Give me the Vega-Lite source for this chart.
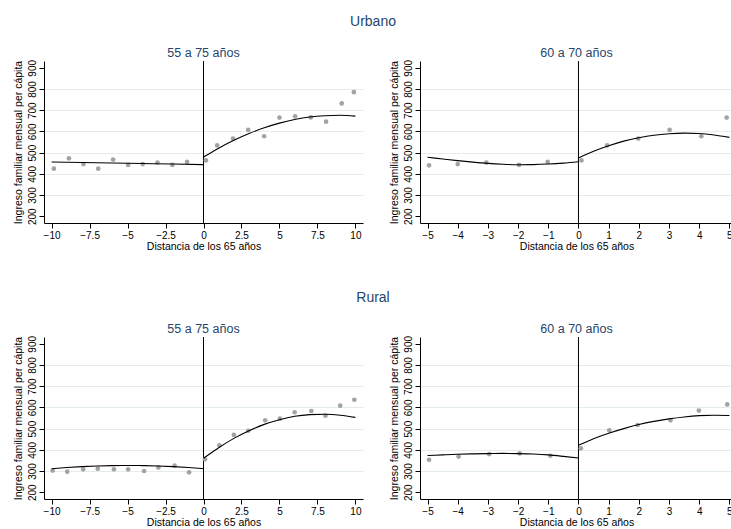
{
  "$schema": "https://vega.github.io/schema/vega-lite/v6.json",
  "padding": {"left": 12, "top": 14, "right": 0, "bottom": 0},
  "background": "white",
  "config": {
    "font": "Liberation Sans",
    "view": {"stroke": null},
    "axis": {"domainColor": "black", "tickColor": "black", "labelColor": "black", "titleColor": "black", "labelFontSize": 10, "titleFontSize": 10.5, "titleFontWeight": "normal", "tickSize": 5, "labelPadding": 2, "domainWidth": 1, "tickWidth": 1, "labelOverlap": false, "labelFlush": false},
    "concat": {"spacing": 25}
  },
  "datasets": {
    "puntos": [
      {"zona": "Urbano", "rango": "55 a 75", "x": -9.85, "y": 424},
      {"zona": "Urbano", "rango": "55 a 75", "x": -8.86, "y": 473},
      {"zona": "Urbano", "rango": "55 a 75", "x": -7.9, "y": 446},
      {"zona": "Urbano", "rango": "55 a 75", "x": -6.93, "y": 424},
      {"zona": "Urbano", "rango": "55 a 75", "x": -5.95, "y": 467},
      {"zona": "Urbano", "rango": "55 a 75", "x": -4.96, "y": 442},
      {"zona": "Urbano", "rango": "55 a 75", "x": -4.0, "y": 446},
      {"zona": "Urbano", "rango": "55 a 75", "x": -3.03, "y": 453},
      {"zona": "Urbano", "rango": "55 a 75", "x": -2.05, "y": 442},
      {"zona": "Urbano", "rango": "55 a 75", "x": -1.08, "y": 456},
      {"zona": "Urbano", "rango": "55 a 75", "x": 0.16, "y": 463},
      {"zona": "Urbano", "rango": "55 a 75", "x": 0.9, "y": 534},
      {"zona": "Urbano", "rango": "55 a 75", "x": 1.94, "y": 566},
      {"zona": "Urbano", "rango": "55 a 75", "x": 2.94, "y": 607},
      {"zona": "Urbano", "rango": "55 a 75", "x": 3.99, "y": 577},
      {"zona": "Urbano", "rango": "55 a 75", "x": 5.0, "y": 665},
      {"zona": "Urbano", "rango": "55 a 75", "x": 6.03, "y": 671},
      {"zona": "Urbano", "rango": "55 a 75", "x": 7.06, "y": 666},
      {"zona": "Urbano", "rango": "55 a 75", "x": 8.07, "y": 646},
      {"zona": "Urbano", "rango": "55 a 75", "x": 9.1, "y": 732},
      {"zona": "Urbano", "rango": "55 a 75", "x": 9.9, "y": 785},
      {"zona": "Urbano", "rango": "60 a 70", "x": -4.95, "y": 440},
      {"zona": "Urbano", "rango": "60 a 70", "x": -4.0, "y": 446},
      {"zona": "Urbano", "rango": "60 a 70", "x": -3.05, "y": 453},
      {"zona": "Urbano", "rango": "60 a 70", "x": -1.97, "y": 442},
      {"zona": "Urbano", "rango": "60 a 70", "x": -1.02, "y": 456},
      {"zona": "Urbano", "rango": "60 a 70", "x": 0.1, "y": 463},
      {"zona": "Urbano", "rango": "60 a 70", "x": 0.95, "y": 534},
      {"zona": "Urbano", "rango": "60 a 70", "x": 1.98, "y": 566},
      {"zona": "Urbano", "rango": "60 a 70", "x": 3.02, "y": 607},
      {"zona": "Urbano", "rango": "60 a 70", "x": 4.07, "y": 577},
      {"zona": "Urbano", "rango": "60 a 70", "x": 4.91, "y": 665},
      {"zona": "Rural", "rango": "55 a 75", "x": -9.93, "y": 302},
      {"zona": "Rural", "rango": "55 a 75", "x": -8.97, "y": 297},
      {"zona": "Rural", "rango": "55 a 75", "x": -7.92, "y": 308},
      {"zona": "Rural", "rango": "55 a 75", "x": -6.96, "y": 311},
      {"zona": "Rural", "rango": "55 a 75", "x": -5.9, "y": 308},
      {"zona": "Rural", "rango": "55 a 75", "x": -4.96, "y": 308},
      {"zona": "Rural", "rango": "55 a 75", "x": -3.91, "y": 300},
      {"zona": "Rural", "rango": "55 a 75", "x": -2.97, "y": 317},
      {"zona": "Rural", "rango": "55 a 75", "x": -1.9, "y": 325},
      {"zona": "Rural", "rango": "55 a 75", "x": -0.95, "y": 294},
      {"zona": "Rural", "rango": "55 a 75", "x": 0.1, "y": 355},
      {"zona": "Rural", "rango": "55 a 75", "x": 1.04, "y": 421},
      {"zona": "Rural", "rango": "55 a 75", "x": 2.0, "y": 470},
      {"zona": "Rural", "rango": "55 a 75", "x": 2.94, "y": 490},
      {"zona": "Rural", "rango": "55 a 75", "x": 4.06, "y": 539},
      {"zona": "Rural", "rango": "55 a 75", "x": 5.03, "y": 547},
      {"zona": "Rural", "rango": "55 a 75", "x": 6.0, "y": 577},
      {"zona": "Rural", "rango": "55 a 75", "x": 7.1, "y": 583},
      {"zona": "Rural", "rango": "55 a 75", "x": 8.03, "y": 561},
      {"zona": "Rural", "rango": "55 a 75", "x": 9.0, "y": 608},
      {"zona": "Rural", "rango": "55 a 75", "x": 9.93, "y": 636},
      {"zona": "Rural", "rango": "60 a 70", "x": -4.95, "y": 353},
      {"zona": "Rural", "rango": "60 a 70", "x": -3.97, "y": 368},
      {"zona": "Rural", "rango": "60 a 70", "x": -2.96, "y": 380},
      {"zona": "Rural", "rango": "60 a 70", "x": -1.95, "y": 383},
      {"zona": "Rural", "rango": "60 a 70", "x": -0.93, "y": 372},
      {"zona": "Rural", "rango": "60 a 70", "x": 0.08, "y": 407},
      {"zona": "Rural", "rango": "60 a 70", "x": 1.02, "y": 492},
      {"zona": "Rural", "rango": "60 a 70", "x": 1.96, "y": 517},
      {"zona": "Rural", "rango": "60 a 70", "x": 3.05, "y": 539},
      {"zona": "Rural", "rango": "60 a 70", "x": 3.99, "y": 585},
      {"zona": "Rural", "rango": "60 a 70", "x": 4.93, "y": 614}
    ],
    "ajuste": [
      {"zona": "Urbano", "rango": "55 a 75", "lado": "izq", "x": -10, "y": 456},
      {"zona": "Urbano", "rango": "55 a 75", "lado": "izq", "x": -8, "y": 453.5},
      {"zona": "Urbano", "rango": "55 a 75", "lado": "izq", "x": -6, "y": 451},
      {"zona": "Urbano", "rango": "55 a 75", "lado": "izq", "x": -4, "y": 448.5},
      {"zona": "Urbano", "rango": "55 a 75", "lado": "izq", "x": -2, "y": 446},
      {"zona": "Urbano", "rango": "55 a 75", "lado": "izq", "x": 0, "y": 443},
      {"zona": "Urbano", "rango": "55 a 75", "lado": "der", "x": 0, "y": 479},
      {"zona": "Urbano", "rango": "55 a 75", "lado": "der", "x": 1, "y": 521},
      {"zona": "Urbano", "rango": "55 a 75", "lado": "der", "x": 2, "y": 558},
      {"zona": "Urbano", "rango": "55 a 75", "lado": "der", "x": 3, "y": 590},
      {"zona": "Urbano", "rango": "55 a 75", "lado": "der", "x": 4, "y": 617},
      {"zona": "Urbano", "rango": "55 a 75", "lado": "der", "x": 5, "y": 639},
      {"zona": "Urbano", "rango": "55 a 75", "lado": "der", "x": 6, "y": 656},
      {"zona": "Urbano", "rango": "55 a 75", "lado": "der", "x": 7, "y": 668},
      {"zona": "Urbano", "rango": "55 a 75", "lado": "der", "x": 8, "y": 674},
      {"zona": "Urbano", "rango": "55 a 75", "lado": "der", "x": 9, "y": 676},
      {"zona": "Urbano", "rango": "55 a 75", "lado": "der", "x": 10, "y": 672},
      {"zona": "Urbano", "rango": "60 a 70", "lado": "izq", "x": -5, "y": 478},
      {"zona": "Urbano", "rango": "60 a 70", "lado": "izq", "x": -4.5, "y": 470},
      {"zona": "Urbano", "rango": "60 a 70", "lado": "izq", "x": -4, "y": 462},
      {"zona": "Urbano", "rango": "60 a 70", "lado": "izq", "x": -3.5, "y": 455},
      {"zona": "Urbano", "rango": "60 a 70", "lado": "izq", "x": -3, "y": 449},
      {"zona": "Urbano", "rango": "60 a 70", "lado": "izq", "x": -2.5, "y": 445},
      {"zona": "Urbano", "rango": "60 a 70", "lado": "izq", "x": -2, "y": 443},
      {"zona": "Urbano", "rango": "60 a 70", "lado": "izq", "x": -1.5, "y": 443.5},
      {"zona": "Urbano", "rango": "60 a 70", "lado": "izq", "x": -1, "y": 446},
      {"zona": "Urbano", "rango": "60 a 70", "lado": "izq", "x": -0.5, "y": 450.5},
      {"zona": "Urbano", "rango": "60 a 70", "lado": "izq", "x": 0, "y": 457},
      {"zona": "Urbano", "rango": "60 a 70", "lado": "der", "x": 0, "y": 474},
      {"zona": "Urbano", "rango": "60 a 70", "lado": "der", "x": 0.5, "y": 506},
      {"zona": "Urbano", "rango": "60 a 70", "lado": "der", "x": 1, "y": 532},
      {"zona": "Urbano", "rango": "60 a 70", "lado": "der", "x": 1.5, "y": 554},
      {"zona": "Urbano", "rango": "60 a 70", "lado": "der", "x": 2, "y": 570},
      {"zona": "Urbano", "rango": "60 a 70", "lado": "der", "x": 2.5, "y": 582},
      {"zona": "Urbano", "rango": "60 a 70", "lado": "der", "x": 3, "y": 589},
      {"zona": "Urbano", "rango": "60 a 70", "lado": "der", "x": 3.5, "y": 592},
      {"zona": "Urbano", "rango": "60 a 70", "lado": "der", "x": 4, "y": 590},
      {"zona": "Urbano", "rango": "60 a 70", "lado": "der", "x": 4.5, "y": 583},
      {"zona": "Urbano", "rango": "60 a 70", "lado": "der", "x": 5, "y": 572},
      {"zona": "Rural", "rango": "55 a 75", "lado": "izq", "x": -10, "y": 311},
      {"zona": "Rural", "rango": "55 a 75", "lado": "izq", "x": -9, "y": 316.4},
      {"zona": "Rural", "rango": "55 a 75", "lado": "izq", "x": -8, "y": 320.6},
      {"zona": "Rural", "rango": "55 a 75", "lado": "izq", "x": -7, "y": 323.6},
      {"zona": "Rural", "rango": "55 a 75", "lado": "izq", "x": -6, "y": 325.4},
      {"zona": "Rural", "rango": "55 a 75", "lado": "izq", "x": -5, "y": 326},
      {"zona": "Rural", "rango": "55 a 75", "lado": "izq", "x": -4, "y": 325.4},
      {"zona": "Rural", "rango": "55 a 75", "lado": "izq", "x": -3, "y": 323.6},
      {"zona": "Rural", "rango": "55 a 75", "lado": "izq", "x": -2, "y": 320.6},
      {"zona": "Rural", "rango": "55 a 75", "lado": "izq", "x": -1, "y": 316.4},
      {"zona": "Rural", "rango": "55 a 75", "lado": "izq", "x": 0, "y": 311},
      {"zona": "Rural", "rango": "55 a 75", "lado": "der", "x": 0, "y": 360},
      {"zona": "Rural", "rango": "55 a 75", "lado": "der", "x": 1, "y": 410},
      {"zona": "Rural", "rango": "55 a 75", "lado": "der", "x": 2, "y": 454},
      {"zona": "Rural", "rango": "55 a 75", "lado": "der", "x": 3, "y": 490},
      {"zona": "Rural", "rango": "55 a 75", "lado": "der", "x": 4, "y": 520},
      {"zona": "Rural", "rango": "55 a 75", "lado": "der", "x": 5, "y": 542},
      {"zona": "Rural", "rango": "55 a 75", "lado": "der", "x": 6, "y": 558},
      {"zona": "Rural", "rango": "55 a 75", "lado": "der", "x": 7, "y": 566},
      {"zona": "Rural", "rango": "55 a 75", "lado": "der", "x": 8, "y": 568},
      {"zona": "Rural", "rango": "55 a 75", "lado": "der", "x": 9, "y": 563},
      {"zona": "Rural", "rango": "55 a 75", "lado": "der", "x": 10, "y": 553},
      {"zona": "Rural", "rango": "60 a 70", "lado": "izq", "x": -5, "y": 373},
      {"zona": "Rural", "rango": "60 a 70", "lado": "izq", "x": -4.5, "y": 376},
      {"zona": "Rural", "rango": "60 a 70", "lado": "izq", "x": -4, "y": 379},
      {"zona": "Rural", "rango": "60 a 70", "lado": "izq", "x": -3.5, "y": 381},
      {"zona": "Rural", "rango": "60 a 70", "lado": "izq", "x": -3, "y": 382},
      {"zona": "Rural", "rango": "60 a 70", "lado": "izq", "x": -2.5, "y": 383},
      {"zona": "Rural", "rango": "60 a 70", "lado": "izq", "x": -2, "y": 382},
      {"zona": "Rural", "rango": "60 a 70", "lado": "izq", "x": -1.5, "y": 380},
      {"zona": "Rural", "rango": "60 a 70", "lado": "izq", "x": -1, "y": 376},
      {"zona": "Rural", "rango": "60 a 70", "lado": "izq", "x": -0.5, "y": 369},
      {"zona": "Rural", "rango": "60 a 70", "lado": "izq", "x": 0, "y": 361},
      {"zona": "Rural", "rango": "60 a 70", "lado": "der", "x": 0, "y": 421},
      {"zona": "Rural", "rango": "60 a 70", "lado": "der", "x": 0.5, "y": 452},
      {"zona": "Rural", "rango": "60 a 70", "lado": "der", "x": 1, "y": 478},
      {"zona": "Rural", "rango": "60 a 70", "lado": "der", "x": 1.5, "y": 500},
      {"zona": "Rural", "rango": "60 a 70", "lado": "der", "x": 2, "y": 519},
      {"zona": "Rural", "rango": "60 a 70", "lado": "der", "x": 2.5, "y": 534},
      {"zona": "Rural", "rango": "60 a 70", "lado": "der", "x": 3, "y": 546},
      {"zona": "Rural", "rango": "60 a 70", "lado": "der", "x": 3.5, "y": 555},
      {"zona": "Rural", "rango": "60 a 70", "lado": "der", "x": 4, "y": 561},
      {"zona": "Rural", "rango": "60 a 70", "lado": "der", "x": 4.5, "y": 563},
      {"zona": "Rural", "rango": "60 a 70", "lado": "der", "x": 5, "y": 562}
    ]
  },
  "spacing": 38,
  "vconcat": [
    {
      "title": {"text": "Urbano", "fontSize": 14, "fontWeight": "normal", "color": "#26466d", "anchor": "middle", "offset": 18},
      "spacing": 25,
      "hconcat": [
        {
          "width": 319, "height": 162,
          "title": {"text": "55 a 75 años", "fontSize": 12.5, "fontWeight": "normal", "color": "#26466d", "frame": "group", "offset": 0},
          "layer": [
            {"data": {"values": [{}]}, "mark": {"type": "rule", "color": "black", "strokeWidth": 1}, "encoding": {"x": {"datum": 0, "type": "quantitative", "scale": {"domain": [-10.5, 10.5], "nice": false, "zero": false}}}},
            {"data": {"name": "puntos"}, "transform": [{"filter": "datum.zona == 'Urbano' && datum.rango == '55 a 75'"}],
             "mark": {"type": "circle", "size": 22, "color": "#a3a3a3", "opacity": 1},
             "encoding": {
               "x": {"field": "x", "type": "quantitative", "scale": {"domain": [-10.5, 10.5], "nice": false, "zero": false}, "axis": {"values": [-10, -7.5, -5, -2.5, 0, 2.5, 5, 7.5, 10], "format": ".1~f", "labelOverlap": false, "tickCount": 9, "grid": false, "title": "Distancia de los 65 años", "titlePadding": 1}},
               "y": {"field": "y", "type": "quantitative", "scale": {"domain": [168, 932], "nice": false, "zero": false}, "axis": {"values": [200, 300, 400, 500, 600, 700, 800, 900], "format": "d", "labelOverlap": false, "tickCount": 8, "title": "Ingreso familiar mensual per cápita", "labelAngle": -90, "labelAlign": "center", "labelBaseline": "bottom", "grid": true, "gridColor": "#e3edf0", "gridOpacity": {"condition": {"test": "datum.value == 200 || datum.value == 900", "value": 0}, "value": 1}, "titlePadding": 4}}
             }},
            {"data": {"name": "ajuste"}, "transform": [{"filter": "datum.zona == 'Urbano' && datum.rango == '55 a 75'"}],
             "mark": {"type": "line", "color": "black", "strokeWidth": 1.1, "interpolate": "monotone"},
             "encoding": {
               "x": {"field": "x", "type": "quantitative", "scale": {"domain": [-10.5, 10.5], "nice": false, "zero": false}},
               "y": {"field": "y", "type": "quantitative", "scale": {"domain": [168, 932], "nice": false, "zero": false}},
               "detail": {"field": "lado"}
             }}
          ]
        },
        {
          "width": 313, "height": 162,
          "title": {"text": "60 a 70 años", "fontSize": 12.5, "fontWeight": "normal", "color": "#26466d", "frame": "group", "offset": 0},
          "layer": [
            {"data": {"values": [{}]}, "mark": {"type": "rule", "color": "black", "strokeWidth": 1}, "encoding": {"x": {"datum": 0, "type": "quantitative", "scale": {"domain": [-5.25, 5.12], "nice": false, "zero": false}}}},
            {"data": {"name": "puntos"}, "transform": [{"filter": "datum.zona == 'Urbano' && datum.rango == '60 a 70'"}],
             "mark": {"type": "circle", "size": 22, "color": "#a3a3a3", "opacity": 1},
             "encoding": {
               "x": {"field": "x", "type": "quantitative", "scale": {"domain": [-5.25, 5.12], "nice": false, "zero": false}, "axis": {"values": [-5, -4, -3, -2, -1, 0, 1, 2, 3, 4, 5], "format": "d", "labelOverlap": false, "tickCount": 11, "grid": false, "title": "Distancia de los 65 años", "titlePadding": 1}},
               "y": {"field": "y", "type": "quantitative", "scale": {"domain": [168, 932], "nice": false, "zero": false}, "axis": {"values": [200, 300, 400, 500, 600, 700, 800, 900], "format": "d", "labelOverlap": false, "tickCount": 8, "title": "Ingreso familiar mensual per cápita", "labelAngle": -90, "labelAlign": "center", "labelBaseline": "bottom", "grid": true, "gridColor": "#e3edf0", "gridOpacity": {"condition": {"test": "datum.value == 200 || datum.value == 900", "value": 0}, "value": 1}, "titlePadding": 4}}
             }},
            {"data": {"name": "ajuste"}, "transform": [{"filter": "datum.zona == 'Urbano' && datum.rango == '60 a 70'"}],
             "mark": {"type": "line", "color": "black", "strokeWidth": 1.1, "interpolate": "monotone"},
             "encoding": {
               "x": {"field": "x", "type": "quantitative", "scale": {"domain": [-5.25, 5.12], "nice": false, "zero": false}},
               "y": {"field": "y", "type": "quantitative", "scale": {"domain": [168, 932], "nice": false, "zero": false}},
               "detail": {"field": "lado"}
             }}
          ]
        }
      ]
    },
    {
      "title": {"text": "Rural", "fontSize": 14, "fontWeight": "normal", "color": "#26466d", "anchor": "middle", "offset": 18},
      "spacing": 25,
      "hconcat": [
        {
          "width": 319, "height": 162,
          "title": {"text": "55 a 75 años", "fontSize": 12.5, "fontWeight": "normal", "color": "#26466d", "frame": "group", "offset": 0},
          "layer": [
            {"data": {"values": [{}]}, "mark": {"type": "rule", "color": "black", "strokeWidth": 1}, "encoding": {"x": {"datum": 0, "type": "quantitative", "scale": {"domain": [-10.5, 10.5], "nice": false, "zero": false}}}},
            {"data": {"name": "puntos"}, "transform": [{"filter": "datum.zona == 'Rural' && datum.rango == '55 a 75'"}],
             "mark": {"type": "circle", "size": 22, "color": "#a3a3a3", "opacity": 1},
             "encoding": {
               "x": {"field": "x", "type": "quantitative", "scale": {"domain": [-10.5, 10.5], "nice": false, "zero": false}, "axis": {"values": [-10, -7.5, -5, -2.5, 0, 2.5, 5, 7.5, 10], "format": ".1~f", "labelOverlap": false, "tickCount": 9, "grid": false, "title": "Distancia de los 65 años", "titlePadding": 1}},
               "y": {"field": "y", "type": "quantitative", "scale": {"domain": [168, 932], "nice": false, "zero": false}, "axis": {"values": [200, 300, 400, 500, 600, 700, 800, 900], "format": "d", "labelOverlap": false, "tickCount": 8, "title": "Ingreso familiar mensual per cápita", "labelAngle": -90, "labelAlign": "center", "labelBaseline": "bottom", "grid": true, "gridColor": "#e3edf0", "gridOpacity": {"condition": {"test": "datum.value == 200 || datum.value == 900", "value": 0}, "value": 1}, "titlePadding": 4}}
             }},
            {"data": {"name": "ajuste"}, "transform": [{"filter": "datum.zona == 'Rural' && datum.rango == '55 a 75'"}],
             "mark": {"type": "line", "color": "black", "strokeWidth": 1.1, "interpolate": "monotone"},
             "encoding": {
               "x": {"field": "x", "type": "quantitative", "scale": {"domain": [-10.5, 10.5], "nice": false, "zero": false}},
               "y": {"field": "y", "type": "quantitative", "scale": {"domain": [168, 932], "nice": false, "zero": false}},
               "detail": {"field": "lado"}
             }}
          ]
        },
        {
          "width": 313, "height": 162,
          "title": {"text": "60 a 70 años", "fontSize": 12.5, "fontWeight": "normal", "color": "#26466d", "frame": "group", "offset": 0},
          "layer": [
            {"data": {"values": [{}]}, "mark": {"type": "rule", "color": "black", "strokeWidth": 1}, "encoding": {"x": {"datum": 0, "type": "quantitative", "scale": {"domain": [-5.25, 5.12], "nice": false, "zero": false}}}},
            {"data": {"name": "puntos"}, "transform": [{"filter": "datum.zona == 'Rural' && datum.rango == '60 a 70'"}],
             "mark": {"type": "circle", "size": 22, "color": "#a3a3a3", "opacity": 1},
             "encoding": {
               "x": {"field": "x", "type": "quantitative", "scale": {"domain": [-5.25, 5.12], "nice": false, "zero": false}, "axis": {"values": [-5, -4, -3, -2, -1, 0, 1, 2, 3, 4, 5], "format": "d", "labelOverlap": false, "tickCount": 11, "grid": false, "title": "Distancia de los 65 años", "titlePadding": 1}},
               "y": {"field": "y", "type": "quantitative", "scale": {"domain": [168, 932], "nice": false, "zero": false}, "axis": {"values": [200, 300, 400, 500, 600, 700, 800, 900], "format": "d", "labelOverlap": false, "tickCount": 8, "title": "Ingreso familiar mensual per cápita", "labelAngle": -90, "labelAlign": "center", "labelBaseline": "bottom", "grid": true, "gridColor": "#e3edf0", "gridOpacity": {"condition": {"test": "datum.value == 200 || datum.value == 900", "value": 0}, "value": 1}, "titlePadding": 4}}
             }},
            {"data": {"name": "ajuste"}, "transform": [{"filter": "datum.zona == 'Rural' && datum.rango == '60 a 70'"}],
             "mark": {"type": "line", "color": "black", "strokeWidth": 1.1, "interpolate": "monotone"},
             "encoding": {
               "x": {"field": "x", "type": "quantitative", "scale": {"domain": [-5.25, 5.12], "nice": false, "zero": false}},
               "y": {"field": "y", "type": "quantitative", "scale": {"domain": [168, 932], "nice": false, "zero": false}},
               "detail": {"field": "lado"}
             }}
          ]
        }
      ]
    }
  ]
}
